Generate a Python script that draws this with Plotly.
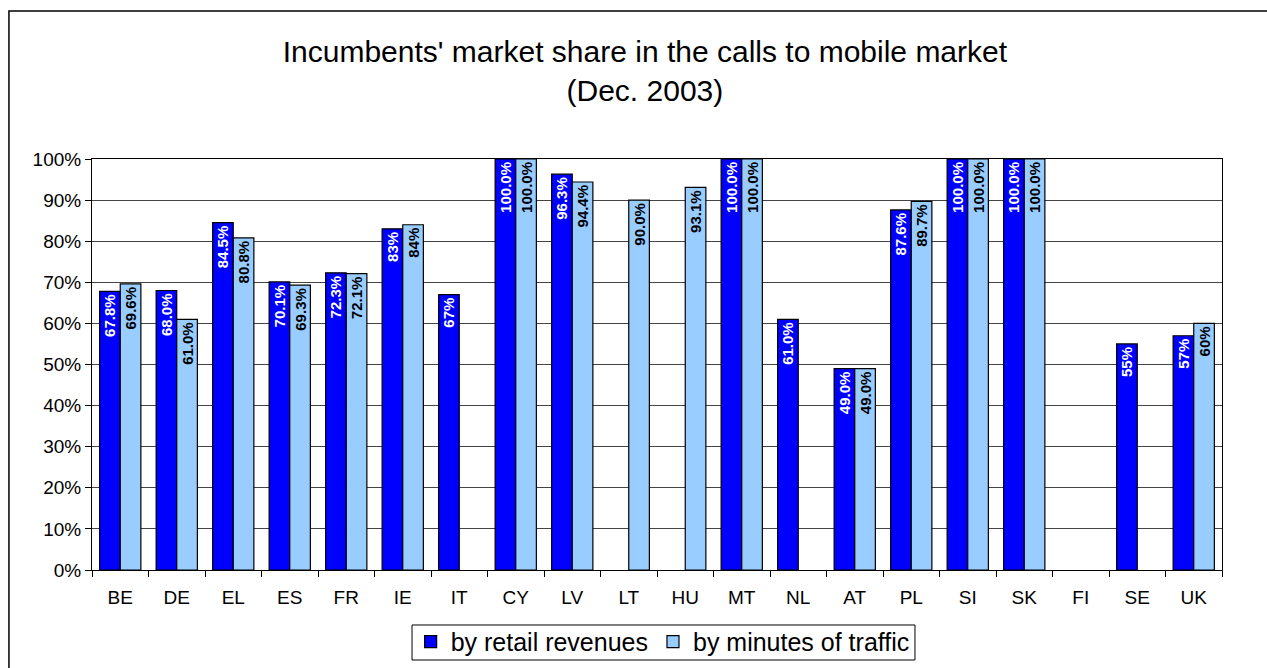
import plotly.graph_objects as go

countries = ["BE", "DE", "EL", "ES", "FR", "IE", "IT", "CY", "LV", "LT",
             "HU", "MT", "NL", "AT", "PL", "SI", "SK", "FI", "SE", "UK"]
retail = [67.8, 68.0, 84.5, 70.1, 72.3, 83, 67, 100.0, 96.3, None,
          None, 100.0, 61.0, 49.0, 87.6, 100.0, 100.0, None, 55, 57]
retail_labels = ["67.8%", "68.0%", "84.5%", "70.1%", "72.3%", "83%", "67%", "100.0%", "96.3%", "",
                 "", "100.0%", "61.0%", "49.0%", "87.6%", "100.0%", "100.0%", "", "55%", "57%"]
minutes = [69.6, 61.0, 80.8, 69.3, 72.1, 84, None, 100.0, 94.4, 90.0,
           93.1, 100.0, None, 49.0, 89.7, 100.0, 100.0, None, None, 60]
minutes_labels = ["69.6%", "61.0%", "80.8%", "69.3%", "72.1%", "84%", "", "100.0%", "94.4%", "90.0%",
                  "93.1%", "100.0%", "", "49.0%", "89.7%", "100.0%", "100.0%", "", "", "60%"]
yticks = [0, 10, 20, 30, 40, 50, 60, 70, 80, 90, 100]
ytick_labels = [f"{v}%" for v in yticks]

FONT = "Liberation Sans, Arial, sans-serif"

fig = go.Figure()
fig.add_trace(go.Bar(
    x=countries, y=retail, name="by retail revenues",
    marker=dict(color="#0000FF", line=dict(color="#000000", width=1.2)),
    text=retail_labels, textposition="inside", insidetextanchor="end",
    constraintext="none",
    textangle=-90, textfont=dict(family=FONT, size=15, color="white", weight="bold"),
    cliponaxis=False,
))
fig.add_trace(go.Bar(
    x=countries, y=minutes, name="by minutes of traffic",
    marker=dict(color="#99CCFF", line=dict(color="#000000", width=1.2)),
    text=minutes_labels, textposition="inside", insidetextanchor="end",
    constraintext="none",
    textangle=-90, textfont=dict(family=FONT, size=15, color="black", weight="bold"),
    cliponaxis=False,
))

fig.update_layout(
    width=1267, height=668,
    margin=dict(l=92, r=45, t=159, b=98, autoexpand=False),
    paper_bgcolor="white", plot_bgcolor="white",
    barmode="group", bargap=0.27, bargroupgap=0,
    font=dict(family=FONT, color="black"),
    title=dict(
        text="Incumbents' market share in the calls to mobile market<br>(Dec. 2003)",
        x=0.509, xref="container", xanchor="center",
        y=0.907, yref="container", yanchor="middle",
        font=dict(family=FONT, size=30, color="black"),
    ),
    showlegend=True,
    legend=dict(
        orientation="h", x=0.505, xanchor="center", y=-0.119, yanchor="top",
        font=dict(family=FONT, size=25, color="black"),
        borderwidth=0, bgcolor="rgba(0,0,0,0)",
        itemwidth=30, tracegroupgap=0,
    ),
    shapes=[
        dict(type="rect", xref="paper", yref="paper",
             x0=-0.0735, x1=1.2, y0=-0.4, y1=1.36,
             line=dict(color="black", width=1.5), layer="below"),
        dict(type="rect", xref="paper", yref="paper",
             x0=0.2832, x1=0.7283, y0=-0.219, y1=-0.1338,
             line=dict(color="black", width=1), fillcolor="white", layer="below"),
    ],
)
fig.update_xaxes(
    showline=True, linecolor="black", linewidth=1, mirror=True,
    ticks="outside", tickson="boundaries", ticklen=6, tickcolor="black",
    ticklabelstandoff=10,
    tickfont=dict(family=FONT, size=19, color="black"),
    showgrid=False,
)
fig.update_yaxes(
    range=[0, 100], tickvals=yticks, ticktext=ytick_labels,
    showline=True, linecolor="black", linewidth=1, mirror=True,
    ticks="outside", ticklen=6, tickcolor="black",
    tickfont=dict(family=FONT, size=19, color="black"),
    showgrid=True, gridcolor="#444444", gridwidth=1, zeroline=False,
)

fig.write_html("out.html", config={"displayModeBar": False},
               post_script="document.body.style.margin='0';")
